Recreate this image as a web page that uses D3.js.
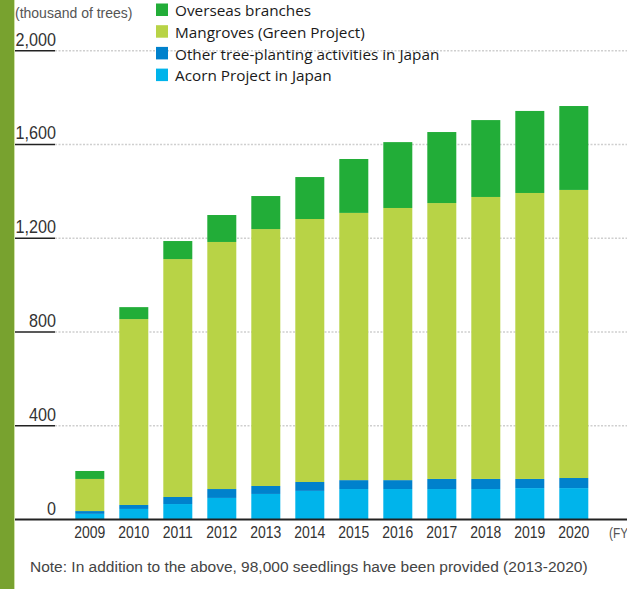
<!DOCTYPE html>
<html>
<head>
<meta charset="utf-8">
<script src="https://cdn.jsdelivr.net/npm/d3@7"></script>
<style>
  body { margin: 0; background: #fff; }
  svg { display: block; }
</style>
</head>
<body>
<div class="chart"></div>
<script>
let years = ['2009', '2010', '2011', '2012', '2013', '2014', '2015', '2016', '2017', '2018', '2019', '2020']
// thousand of trees, bottom to top
let acorn    = [24, 45, 66, 92, 109, 122, 130, 130, 130, 130, 134, 134]
let other    = [12, 17, 30, 38, 34, 38, 38, 38, 43, 43, 39, 43]
let mangrove = [137, 793, 1015, 1054, 1096, 1122, 1140, 1161, 1177, 1203, 1220, 1229]
let overseas = [34, 51, 77, 115, 141, 179, 230, 281, 303, 328, 350, 358]
let yTicks = [0, 400, 800, 1200, 1600, 2000]

let keys = ['acorn', 'other', 'mangrove', 'overseas']
let colors = {acorn: '#00b4eb', other: '#0081cc', mangrove: '#b8d346', overseas: '#22ad38'}
let legend = [
  ['overseas', 'Overseas branches'],
  ['mangrove', 'Mangroves (Green Project)'],
  ['other', 'Other tree-planting activities in Japan'],
  ['acorn', 'Acorn Project in Japan']
]

let width = 627
let height = 589
let sans = '"Liberation Sans", Arial, sans-serif'

// squeeze text horizontally to look like a condensed face
function squeeze(sel, k) {
  sel.each(function() {
    let w = this.getComputedTextLength()
    d3.select(this).attr('textLength', w * k).attr('lengthAdjust', 'spacingAndGlyphs')
  })
}

let table = years.map((y, i) => ({year: y, acorn: acorn[i], other: other[i], mangrove: mangrove[i], overseas: overseas[i]}))
let series = d3.stack().keys(keys)(table)

let xScale = d3.scaleBand()
               .domain(years)
               .range([67.8, 595.8])
               .paddingInner(15 / 44)
               .paddingOuter(7.5 / 44)

let yScale = d3.scaleLinear()
               .domain([0, 2000])
               .range([519.5, 50.7])

let svg = d3.select('.chart')
            .append('svg')
            .attr('width', width)
            .attr('height', height)

// green strip on the left
svg.append('rect').attr('x', 0).attr('y', 0).attr('width', 14).attr('height', height).attr('fill', '#78a22f')
svg.append('rect').attr('x', 14).attr('y', 0).attr('width', 1).attr('height', height).attr('fill', '#cfe0a8')

// grid
yTicks.filter(d => d > 0).forEach(d => {
  svg.append('line')
     .attr('x1', 55).attr('x2', width)
     .attr('y1', yScale(d)).attr('y2', yScale(d))
     .attr('stroke', '#cfcfcf')
     .attr('stroke-width', 1.5)
     .attr('stroke-dasharray', '2,1.5')
  svg.append('line')
     .attr('x1', 15).attr('x2', 55)
     .attr('y1', yScale(d)).attr('y2', yScale(d))
     .attr('stroke', '#222')
     .attr('stroke-width', 1.5)
})

let yLabels = svg.selectAll('text.ylab')
   .data(yTicks)
   .enter()
   .append('text')
   .attr('class', 'ylab')
   .attr('x', 56)
   .attr('y', d => yScale(d) - 5)
   .attr('text-anchor', 'end')
   .attr('font-family', sans)
   .attr('font-size', 19)
   .attr('fill', '#333')
   .text(d => d3.format(',')(d))
squeeze(yLabels, 0.85)

let unit = svg.append('text')
   .attr('x', 15).attr('y', 18)
   .attr('font-family', sans)
   .attr('font-size', 14)
   .attr('fill', '#555')
   .text('(thousand of trees)')

// bars
svg.selectAll('g.layer')
   .data(series)
   .enter()
   .append('g')
   .attr('class', 'layer')
   .attr('fill', d => colors[d.key])
   .selectAll('rect')
   .data(d => d)
   .enter()
   .append('rect')
   .attr('x', d => xScale(d.data.year))
   .attr('y', d => yScale(d[1]))
   .attr('width', xScale.bandwidth())
   .attr('height', d => yScale(d[0]) - yScale(d[1]))

// baseline + year labels
let xAxis = d3.axisBottom(xScale).tickSize(0).tickPadding(0)
let gx = svg.append('g')
            .attr('transform', `translate(0, ${yScale(0)})`)
            .call(xAxis)
gx.select('.domain').remove()
gx.selectAll('text')
  .attr('font-family', sans)
  .attr('font-size', 17)
  .attr('fill', '#333')
  .attr('dy', null)
  .attr('y', 18.5)
squeeze(gx.selectAll('text'), 0.82)

svg.append('line')
   .attr('x1', 15).attr('x2', width)
   .attr('y1', yScale(0)).attr('y2', yScale(0))
   .attr('stroke', '#222')
   .attr('stroke-width', 2)

let fy = svg.append('text')
   .attr('x', 609).attr('y', 538)
   .attr('font-family', sans)
   .attr('font-size', 14)
   .attr('fill', '#555')
   .text('(FY)')
squeeze(fy, 0.85)

// legend
legend.forEach((item, i) => {
  svg.append('rect')
     .attr('x', 156).attr('y', 3.5 + i * 21.7)
     .attr('width', 12).attr('height', 12.5)
     .attr('fill', colors[item[0]])
  svg.append('text')
     .attr('x', 175).attr('y', 16.3 + i * 21.7)
     .attr('font-family', '"Open Sans", "Noto Sans", sans-serif')
     .attr('font-size', 15.3)
     .attr('fill', '#1a1a1a')
     .text(item[1])
})

// note
svg.append('text')
   .attr('x', 30).attr('y', 572)
   .attr('font-family', sans)
   .attr('font-size', 15.5)
   .attr('fill', '#444')
   .text('Note: In addition to the above, 98,000 seedlings have been provided (2013-2020)')
</script>
</body>
</html>
